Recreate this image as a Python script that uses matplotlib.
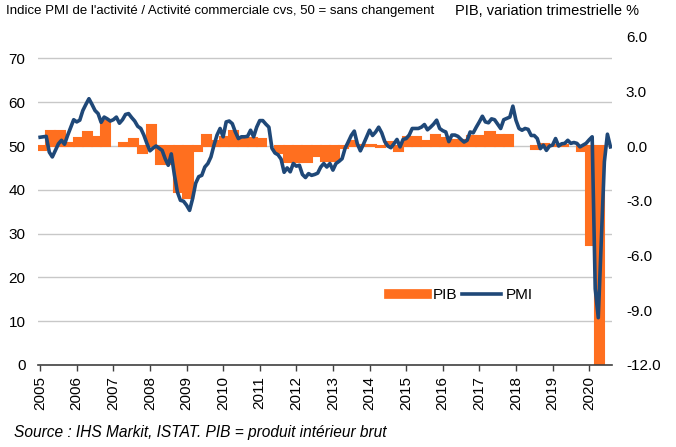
import numpy as np
import matplotlib
matplotlib.use("Agg")
import matplotlib.pyplot as plt
from matplotlib.lines import Line2D

plt.rcParams["font.family"] = ["Liberation Sans", "DejaVu Sans"]

# Monthly PMI (services business activity), Jan 2005 - Aug 2020
pmi = [
    52.0, 52.1, 52.2, 48.6, 47.5, 49.0, 50.5, 51.3, 50.4, 52.4, 54.2, 56.0,  # 2005
    55.5, 55.9, 58.1, 59.5, 60.8, 59.5, 58.1, 57.4, 55.4, 56.6, 56.2, 55.7,  # 2006
    56.0, 56.6, 55.2, 56.0, 57.2, 57.4, 56.5, 55.7, 54.5, 54.0, 52.5, 50.6,  # 2007
    48.9, 49.5, 50.0, 49.5, 49.0, 47.1, 45.6, 48.2, 43.5, 39.5, 37.6, 37.4,  # 2008
    36.5, 35.3, 38.0, 41.5, 43.0, 43.3, 45.2, 46.0, 47.5, 50.2, 52.5, 54.0,  # 2009
    52.1, 55.5, 55.7, 55.1, 53.2, 51.7, 52.1, 52.1, 52.2, 53.6, 52.1, 54.3,  # 2010
    55.8, 55.8, 55.0, 54.3, 49.5, 48.4, 48.0, 47.0, 44.0, 45.0, 44.1, 46.0,  # 2011
    45.4, 45.6, 43.5, 42.8, 43.7, 43.3, 43.5, 43.8, 45.2, 46.0, 45.2, 46.0,  # 2012
    44.5, 46.0, 46.5, 47.1, 49.5, 50.9, 52.4, 53.4, 50.5, 48.9, 50.4, 52.0,  # 2013
    53.6, 52.4, 53.2, 54.3, 53.0, 51.0, 50.0, 49.6, 50.5, 51.5, 49.8, 51.5,  # 2014
    51.7, 52.5, 54.0, 54.0, 54.0, 54.3, 54.9, 53.7, 54.3, 55.0, 55.9, 54.0,  # 2015
    53.5, 53.2, 51.0, 52.5, 52.5, 52.2, 51.5, 50.9, 51.3, 53.2, 53.0, 54.3,  # 2016
    55.5, 56.8, 55.5, 55.3, 56.2, 56.0, 55.0, 54.0, 56.0, 56.3, 56.6, 59.1,  # 2017
    55.9, 54.0, 53.6, 54.0, 53.8, 52.4, 52.4, 51.7, 49.4, 50.2, 49.0, 50.0,  # 2018
    50.2, 51.7, 50.0, 50.5, 50.6, 51.3, 50.6, 50.8, 50.6, 49.8, 50.2, 50.6,  # 2019
    51.4, 52.1, 17.4, 10.8, 28.9, 46.4, 52.7, 49.8,                          # 2020
]

# Quarterly GDP growth q/q %, Q1 2005 - Q2 2020
pib = [
    -0.2, 0.8, 0.8, 0.15,     # 2005
    0.45, 0.75, 0.5, 1.35,    # 2006
    0.0, 0.15, 0.4, -0.4,     # 2007
    1.15, -1.0, -1.0, -2.5,   # 2008
    -2.85, -0.3, 0.6, 0.3,    # 2009
    0.5, 0.8, 0.45, 0.45,     # 2010
    0.4, 0.0, -0.4, -0.85,    # 2011
    -0.85, -0.85, -0.55, -0.8,  # 2012
    -0.8, -0.1, 0.3, 0.05,    # 2013
    0.05, -0.05, 0.2, -0.25,  # 2014
    0.5, 0.5, 0.3, 0.6,       # 2015
    0.45, 0.35, 0.35, 0.55,   # 2016
    0.55, 0.75, 0.6, 0.6,     # 2017
    0.0, 0.0, -0.15, 0.1,     # 2018
    0.05, 0.05, 0.0, -0.25,   # 2019
    -5.4, -12.4,              # 2020
]

years = list(range(2005, 2021))
left_ticks = [0, 10, 20, 30, 40, 50, 60, 70]
right_ticks = [-12, -9, -6, -3, 0, 3, 6]

orange = "#FF6F1F"
blue = "#1F4878"

months = np.arange(len(pmi))
quarters = np.arange(len(pib)) * 3 + 0.5

fig = plt.figure(figsize=(6.76, 4.47), dpi=100)
ax = fig.add_axes([38 / 676, 1 - 365 / 447, (612 - 38) / 676, (365 - 36.5) / 447])
axr = ax.twinx()
axl = ax.twinx()

# gridlines + left scale
ax.set_ylim(0, 75)
ax.set_yticks(left_ticks)
ax.grid(axis="y", color="#c8c8c8", linewidth=1)
ax.set_axisbelow(True)
ax.tick_params(axis="y", length=0, pad=9, labelsize=11)

# GDP bars on right scale (thin outline, none for flat quarters)
edges = [orange if v != 0 else "none" for v in pib]
axr.bar(quarters, pib, width=3.0, color=orange, edgecolor=edges, linewidth=1.5)
axr.set_ylim(-12, 6)
axr.set_yticks(right_ticks)
axr.set_yticklabels([f"{v:.1f}" for v in right_ticks])
axr.tick_params(axis="y", length=0, pad=10, labelsize=11)

# PMI line on top
axl.plot(months, pmi, color=blue, linewidth=2.6, solid_joinstyle="round")
axl.set_ylim(0, 75)
axl.set_yticks([])

for a in (ax, axr, axl):
    for s in a.spines.values():
        s.set_visible(False)
axl.spines["bottom"].set_visible(True)
axl.spines["bottom"].set_color("#404040")
axl.spines["bottom"].set_linewidth(1.2)

ax.set_xlim(-0.7, 187.5)
ax.set_xticks([12 * i for i in range(len(years))])
ax.set_xticklabels([str(y) for y in years], rotation=90)
ax.tick_params(axis="x", length=4, width=1, color="#404040", pad=4, labelsize=11)
axl.tick_params(axis="x", length=4, width=1, color="#404040")

handles = [Line2D([0], [0], color=orange, linewidth=7),
           Line2D([0], [0], color=blue, linewidth=2.6)]
fig.legend(handles, ["PIB", "PMI"], loc="center left",
           bbox_to_anchor=(389 / 676, 1 - 295 / 447), ncol=2, frameon=False,
           fontsize=11, handlelength=2.5, handletextpad=0.35, columnspacing=0.35,
           borderpad=0, borderaxespad=0)

fig.text(6 / 676, 1 - 11 / 447,
         "Indice PMI de l'activité / Activité commerciale cvs, 50 = sans changement",
         fontsize=9.5, va="center")
fig.text(455 / 676, 1 - 11 / 447, "PIB, variation trimestrielle %",
         fontsize=10.5, va="center")
fig.text(14 / 676, 1 - 432 / 447,
         "Source : IHS Markit, ISTAT. PIB = produit intérieur brut",
         fontsize=11.2, style="italic", va="center")

fig.savefig("out.png", dpi=100)
